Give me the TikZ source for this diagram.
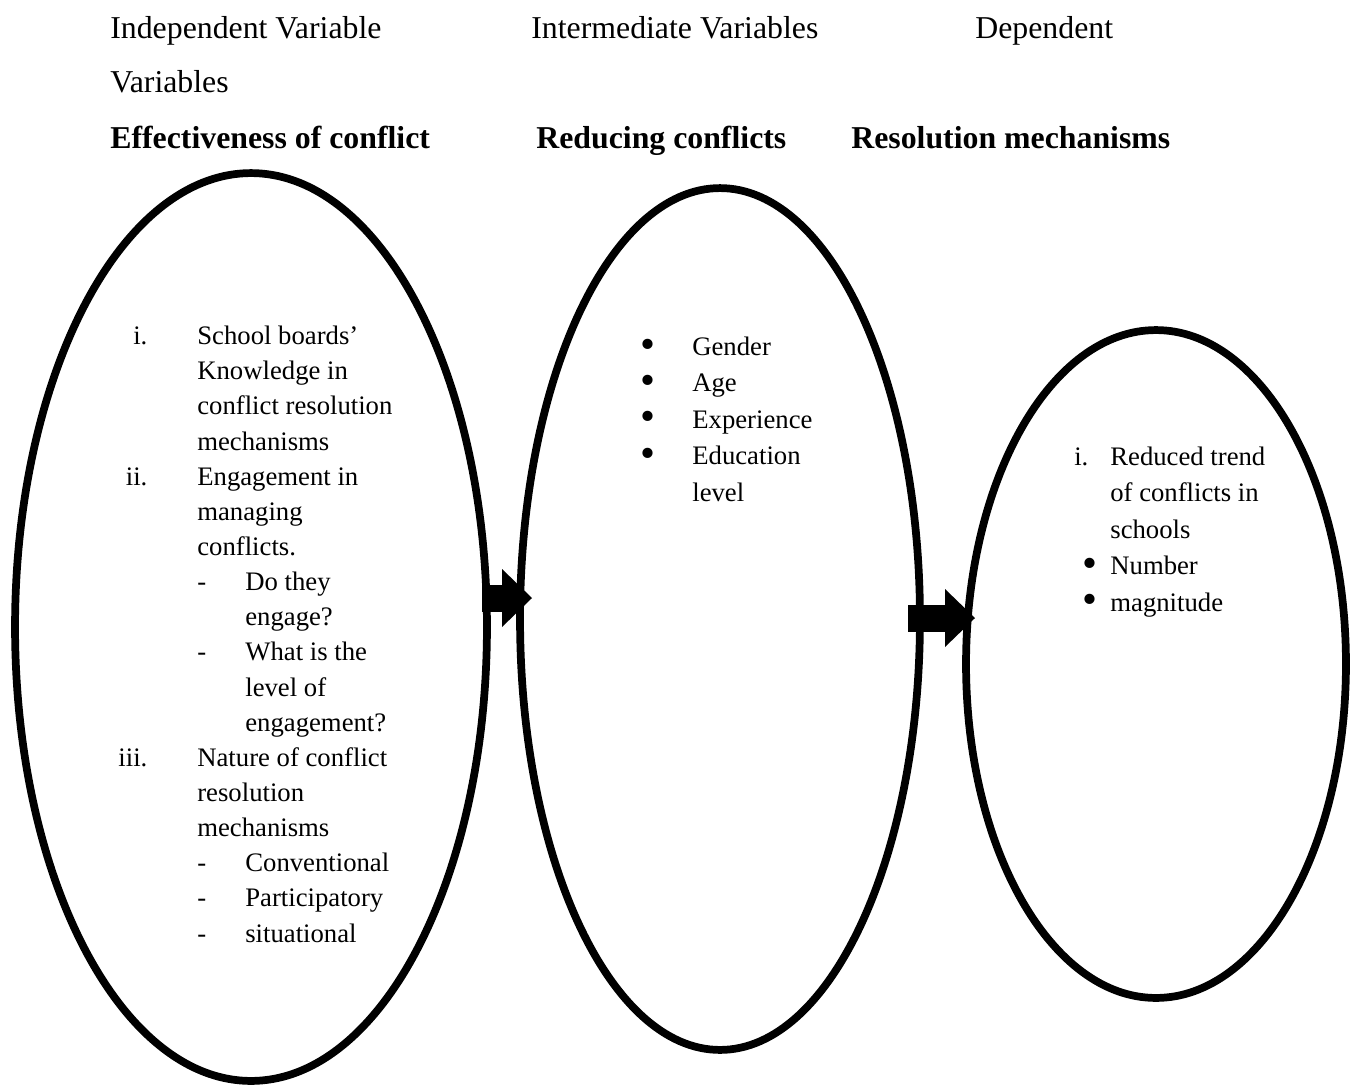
\documentclass[tikz,border=0pt]{standalone}
\usepackage{fontspec}
\setmainfont{Liberation Serif}
\usepackage{tikz}
\usetikzlibrary{arrows.meta,shapes.geometric}

\newdimen\px \px=0.02cm
\newcommand{\lbl}[2]{\llap{#2\hspace{#1\px}}}
\newcommand{\dsh}{\makebox[48\px][l]{-}}
\newcommand{\ind}{\hspace*{48\px}}
\newcommand{\bul}{\raisebox{-0.1em}{\scalebox{1.6}{\textbullet}}}

\tikzset{
  oval/.style={ellipse,draw,line width=4.4pt,inner sep=0pt,outer sep=0pt},
  txt/.style={anchor=base west,inner sep=0pt,align=left,font=\fontsize{18.1}{20}\selectfont},
  item/.style={txt,font=\fontsize{15.2}{20}\selectfont},
  wide/.style={txt,font=\fontsize{15.2}{20.7}\selectfont},
  blockarrow/.style={line width=0.54cm,-{Triangle[length=0.6cm,width=1.16cm,line width=0pt]}}
}

\begin{document}
\begin{tikzpicture}[x=0.02cm,y=-0.02cm]
  \useasboundingbox (0,0) rectangle (1352,1086);
  % column headings
  \node[txt] (h1) at (110,38) {Independent Variable};
  \node[txt] (h2) at (531,38) {Intermediate Variables};
  \node[txt] (h3) at (975,38) {Dependent};
  \node[txt] (h4) at (110,92) {Variables};
  \node[txt,font=\fontsize{18.1}{20}\selectfont\bfseries] (t1) at (110,148) {Effectiveness of conflict};
  \node[txt,font=\fontsize{18.1}{20}\selectfont\bfseries] (t2) at (536,148) {Reducing conflicts};
  \node[txt,font=\fontsize{18.1}{20}\selectfont\bfseries] (t3) at (851,148) {Resolution mechanisms};

  % the three ovals
  \node[oval,minimum width=9.44cm,minimum height=18.16cm] (e1) at (251,627) {};
  \node[oval,minimum width=8cm,minimum height=17.24cm] (e2) at (720,619) {};
  \node[oval,minimum width=7.6cm,minimum height=13.36cm] (e3) at (1156,664) {};

  % independent variables (placed by the last baseline)
  \node[item] (l1) at (197,942) {%
    \lbl{50}{i.}School boards'\\
    Knowledge in\\
    conflict resolution\\
    mechanisms\\
    \lbl{50}{ii.}Engagement in\\
    managing\\
    conflicts.\\
    \dsh Do they\\
    \ind engage?\\
    \dsh What is the\\
    \ind level of\\
    \ind engagement?\\
    \lbl{50}{iii.}Nature of conflict\\
    resolution\\
    mechanisms\\
    \dsh Conventional\\
    \dsh Participatory\\
    \dsh situational};

  % intermediate variables
  \node[wide] (l2) at (692,501) {%
    \lbl{37}{\bul}Gender\\
    \lbl{37}{\bul}Age\\
    \lbl{37}{\bul}Experience\\
    \lbl{37}{\bul}Education\\
    level};

  % dependent variables
  \node[wide] (l3) at (1110,611) {%
    \lbl{22}{i.}Reduced trend\\
    of conflicts in\\
    schools\\
    \lbl{13}{\bul}Number\\
    \lbl{13}{\bul}magnitude};

  % block arrows between the ovals
  \coordinate (a1s) at (482,598);
  \coordinate (a1e) at (532,598);
  \coordinate (a2s) at (908,618);
  \coordinate (a2e) at (975,618);
  \draw[blockarrow] (a1s) -- (a1e);
  \draw[blockarrow] (a2s) -- (a2e);
\end{tikzpicture}
\end{document}
